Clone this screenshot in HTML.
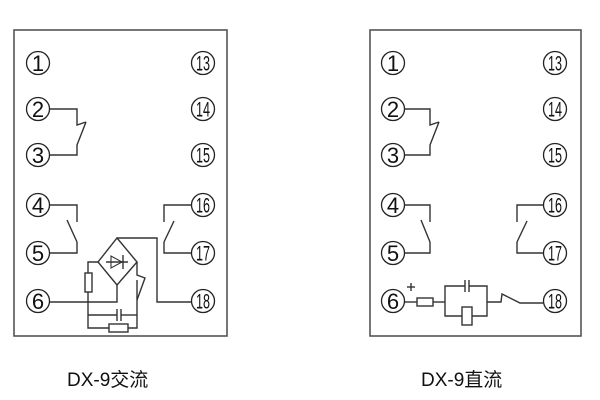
<!DOCTYPE html>
<html><head><meta charset="utf-8"><style>
html,body{margin:0;padding:0;background:#fff;width:600px;height:400px;overflow:hidden}
svg{display:block}
text{font-family:"Liberation Sans","Noto Sans CJK SC",sans-serif;fill:#111}
.n{font-size:22px;text-anchor:middle}
.nn{font-size:21px;text-anchor:middle}
</style></head><body>
<svg width="600" height="400" viewBox="0 0 600 400" fill="none" stroke="#333" stroke-width="1.4">
<rect x="14" y="30" width="213" height="306" stroke="#555" stroke-width="1.6"/>
<rect x="370" y="30" width="211" height="306" stroke="#555" stroke-width="1.6"/>

<g stroke="#222" stroke-width="1.3">
<circle cx="38" cy="63" r="11.5"/><circle cx="38" cy="109" r="11.5"/><circle cx="38" cy="155" r="11.5"/>
<circle cx="38" cy="205" r="11.5"/><circle cx="38" cy="253" r="11.5"/><circle cx="38" cy="301" r="11.5"/>
<circle cx="203" cy="63" r="11.5"/><circle cx="203" cy="109" r="11.5"/><circle cx="203" cy="155" r="11.5"/>
<circle cx="203" cy="205" r="11.5"/><circle cx="203" cy="253" r="11.5"/><circle cx="203" cy="301" r="11.5"/>
<circle cx="393" cy="63" r="11.5"/><circle cx="393" cy="109" r="11.5"/><circle cx="393" cy="155" r="11.5"/>
<circle cx="393" cy="205" r="11.5"/><circle cx="393" cy="253" r="11.5"/><circle cx="393" cy="301" r="11.5"/>
<circle cx="555" cy="63" r="11.5"/><circle cx="555" cy="109" r="11.5"/><circle cx="555" cy="155" r="11.5"/>
<circle cx="555" cy="205" r="11.5"/><circle cx="555" cy="253" r="11.5"/><circle cx="555" cy="301" r="11.5"/>
</g>

<polyline points="50,109 77,109 77,125 86,122"/>
<polyline points="86,122 77,145 77,155 50,155"/>
<polyline points="50,205 77,205 77,222"/>
<line x1="67" y1="220" x2="77" y2="242"/>
<polyline points="77,242 77,253 50,253"/>
<polyline points="191,205 164,205 164,222"/>
<line x1="174" y1="221" x2="164" y2="242"/>
<polyline points="164,242 164,253 191,253"/>
<polygon points="117,238 137,262 117,285 98,262"/>
<polygon points="111,256 111,268 122,262" stroke-width="1.1"/>
<line x1="123" y1="255" x2="123" y2="269"/>
<line x1="106" y1="262" x2="128" y2="262"/>
<polyline points="117,238 157,238 157,302 191,302"/>
<polyline points="117,285 117,302 50,302"/>
<polyline points="98,262 88,262 88,328 109,328"/>
<rect x="85" y="273" width="7" height="19" fill="#fff"/>
<rect x="109" y="324" width="19" height="8" fill="#fff"/>
<polyline points="128,328 137,328 137,280"/>
<polyline points="137,262 137,275 145,278 137,300"/>
<polyline points="88,315 117,315"/><line x1="117" y1="309" x2="117" y2="321"/>
<line x1="121" y1="309" x2="121" y2="321"/><polyline points="121,315 137,315"/>

<polyline points="405,109 430,109 430,125 439,122"/>
<polyline points="439,122 430,145 430,155 405,155"/>
<polyline points="405,205 430,205 430,222"/>
<line x1="421" y1="220" x2="430" y2="242"/>
<polyline points="430,242 430,253 405,253"/>
<polyline points="543,205 517,205 517,222"/>
<line x1="527" y1="221" x2="517" y2="242"/>
<polyline points="517,242 517,253 543,253"/>
<line x1="405" y1="302" x2="417" y2="302"/>
<rect x="417" y="298" width="16" height="8" fill="#fff"/>
<polyline points="433,302 445,302"/>
<polyline points="465,286 445,286 445,316 462,316"/>
<polyline points="469,286 487,286 487,316 472,316"/>
<line x1="465" y1="280" x2="465" y2="292"/><line x1="469" y1="280" x2="469" y2="292"/>
<rect x="462" y="307" width="10" height="18" fill="#fff"/>
<polyline points="487,302 501,302 502,294 520,303 543,303"/>
<line x1="407" y1="287" x2="415" y2="287"/><line x1="411" y1="283" x2="411" y2="291"/>

<g stroke="none">
<text class="n" x="38" y="71">1</text><text class="n" x="38" y="117">2</text><text class="n" x="38" y="163">3</text>
<text class="n" x="38" y="213">4</text><text class="n" x="38" y="261">5</text><text class="n" x="38" y="309">6</text>
<text class="n" x="393" y="71">1</text><text class="n" x="393" y="117">2</text><text class="n" x="393" y="163">3</text>
<text class="n" x="393" y="213">4</text><text class="n" x="393" y="261">5</text><text class="n" x="393" y="309">6</text>
<g transform="translate(203,0) scale(0.6,1)">
<text class="nn" x="0" y="70.5">13</text><text class="nn" x="0" y="116.5">14</text><text class="nn" x="0" y="162.5">15</text>
<text class="nn" x="0" y="212.5">16</text><text class="nn" x="0" y="260.5">17</text><text class="nn" x="0" y="308.5">18</text></g>
<g transform="translate(555,0) scale(0.6,1)">
<text class="nn" x="0" y="70.5">13</text><text class="nn" x="0" y="116.5">14</text><text class="nn" x="0" y="162.5">15</text>
<text class="nn" x="0" y="212.5">16</text><text class="nn" x="0" y="260.5">17</text><text class="nn" x="0" y="308.5">18</text></g>
<text x="67" y="386" style="font-size:19px">DX-9交流</text>
<text x="421" y="386" style="font-size:19px">DX-9直流</text>
</g>
</svg>
</body></html>
